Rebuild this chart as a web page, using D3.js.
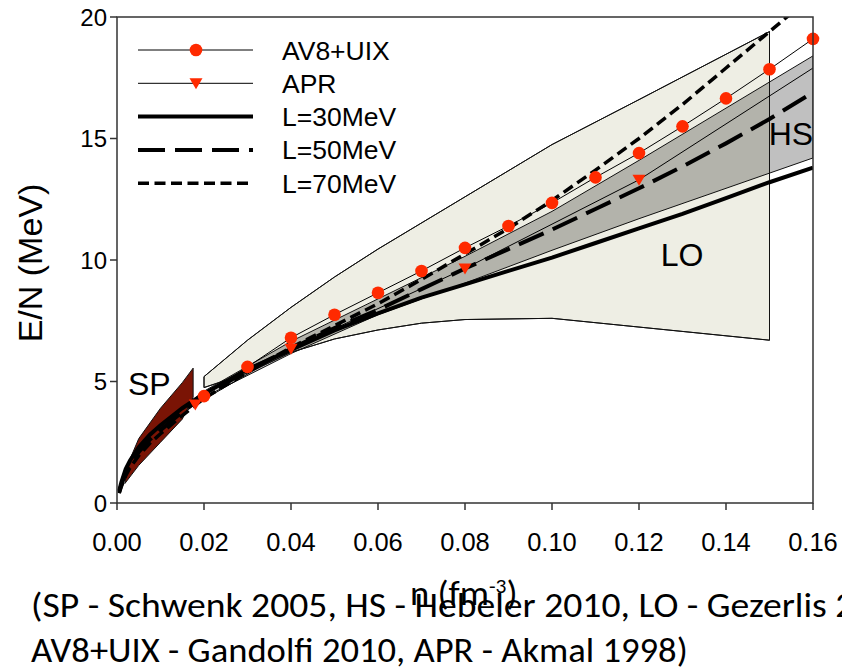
<!DOCTYPE html>
<html>
<head>
<meta charset="utf-8">
<script src="https://cdn.jsdelivr.net/npm/d3@7"></script>
<style>
  body { margin: 0; background: #fff; }
  svg { display: block; }
</style>
</head>
<body>
<div id="chart"></div>
<script>
// Data: [n (fm^-3), E/N (MeV)]
const xTicks = [0, 0.02, 0.04, 0.06, 0.08, 0.10, 0.12, 0.14, 0.16];
const yTicks = [0, 5, 10, 15, 20];

const l30 = [[0.0005, 0.5], [0.001, 0.85], [0.002, 1.4], [0.003, 1.75], [0.005, 2.3],
    [0.0075, 2.8], [0.01, 3.2], [0.015, 3.9], [0.02, 4.5], [0.03, 5.5], [0.04, 6.3], [0.05, 7.1],
    [0.06, 7.8], [0.07, 8.45], [0.08, 9.0], [0.09, 9.55], [0.10, 10.1], [0.11, 10.7], [0.12, 11.3],
    [0.13, 11.9], [0.14, 12.55], [0.15, 13.2], [0.16, 13.8]];
const l50 = [[0.0005, 0.45], [0.001, 0.75], [0.002, 1.25], [0.003, 1.6], [0.005, 2.1],
    [0.0075, 2.6], [0.01, 3.0], [0.015, 3.75], [0.02, 4.4], [0.03, 5.45], [0.04, 6.35], [0.05, 7.2],
    [0.06, 7.95], [0.07, 8.8], [0.08, 9.65], [0.09, 10.45], [0.10, 11.25], [0.11, 12.1], [0.12, 12.95],
    [0.13, 13.85], [0.14, 14.8], [0.15, 15.8], [0.16, 16.9]];
const l70 = [[0.0005, 0.4], [0.001, 0.68], [0.002, 1.12], [0.003, 1.45], [0.005, 1.95],
    [0.0075, 2.45], [0.01, 2.85], [0.015, 3.6], [0.02, 4.3], [0.03, 5.4], [0.04, 6.4], [0.05, 7.3],
    [0.06, 8.2], [0.07, 9.2], [0.08, 10.25], [0.09, 11.3], [0.10, 12.45], [0.11, 13.7], [0.12, 15.0],
    [0.13, 16.4], [0.14, 17.9], [0.15, 19.4], [0.16, 20.9]];

const av8uix = [[0.02, 4.4], [0.03, 5.6], [0.04, 6.8], [0.05, 7.75], [0.06, 8.65], [0.07, 9.55],
    [0.08, 10.5], [0.09, 11.4], [0.10, 12.35], [0.11, 13.4], [0.12, 14.4], [0.13, 15.5],
    [0.14, 16.65], [0.15, 17.85], [0.16, 19.1]];
const apr = [[0.018, 4.05], [0.04, 6.35], [0.08, 9.65], [0.12, 13.3], [0.16, 17.9]];
const aprMarked = [0.018, 0.04, 0.08, 0.12];

// bands: upper edge left->right, lower edge left->right
const spUpper = [[0.0018, 0.8], [0.0025, 1.6], [0.005, 2.65], [0.01, 3.9], [0.015, 4.95], [0.0175, 5.55]];
const spLower = [[0.0018, 0.8], [0.005, 1.55], [0.01, 2.5], [0.015, 3.45], [0.0175, 4.35]];

const hsUpper = [[0.005, 2.3], [0.01, 3.25], [0.02, 4.6], [0.04, 6.65], [0.06, 8.4], [0.08, 10.15],
    [0.10, 12.0], [0.12, 14.1], [0.14, 16.25], [0.16, 18.4]];
const hsLower = [[0.005, 2.0], [0.01, 2.95], [0.02, 4.35], [0.04, 6.15], [0.06, 7.75], [0.08, 9.05],
    [0.10, 10.4], [0.12, 11.7], [0.14, 12.95], [0.16, 14.2]];

const loUpper = [[0.02, 5.2], [0.03, 6.7], [0.04, 8.05], [0.05, 9.3], [0.06, 10.45], [0.08, 12.6],
    [0.10, 14.75], [0.12, 16.6], [0.15, 19.4]];
const loLower = [[0.02, 4.75], [0.03, 5.35], [0.04, 6.2], [0.05, 6.75], [0.06, 7.12], [0.07, 7.4],
    [0.08, 7.55], [0.10, 7.6], [0.15, 6.7]];

const legendItems = [
    { label: "AV8+UIX", width: 1, dash: null, marker: "circle" },
    { label: "APR", width: 1, dash: null, marker: "triangle" },
    { label: "L=30MeV", width: 4, dash: null },
    { label: "L=50MeV", width: 4, dash: "27,10" },
    { label: "L=70MeV", width: 3.5, dash: "11,5.5" }
];

const width = 842, height = 671;
const plot = { left: 117, right: 813, top: 17, bottom: 503 };
const red = "#ff2a00";
const arial = "Liberation Sans, Arial, sans-serif";

const svg = d3.select("#chart").append("svg")
    .attr("width", width)
    .attr("height", height);

const x = d3.scaleLinear().domain([0, 0.16]).range([plot.left, plot.right]);
const y = d3.scaleLinear().domain([0, 20]).range([plot.bottom, plot.top]);

svg.append("defs").append("clipPath").attr("id", "plot-clip")
    .append("rect")
    .attr("x", plot.left).attr("y", plot.top)
    .attr("width", plot.right - plot.left).attr("height", plot.bottom - plot.top);

const line = d3.line().x(d => x(d[0])).y(d => y(d[1]));
const band = (upper, lower) => line(upper.concat(lower.slice().reverse())) + "Z";

const g = svg.append("g").attr("clip-path", "url(#plot-clip)");

// LO band
g.append("path")
    .attr("d", band(loUpper, loLower))
    .attr("fill", "#eeeee4")
    .attr("stroke", "#111")
    .attr("stroke-width", 1);

// HS band (darker where it overlaps LO)
g.append("path")
    .attr("d", band(hsUpper, hsLower))
    .attr("fill", "#c0c0c0")
    .style("mix-blend-mode", "multiply")
    .attr("stroke", "#111")
    .attr("stroke-width", 1);

// LO outline again on top of HS
g.append("path")
    .attr("d", band(loUpper, loLower))
    .attr("fill", "none")
    .attr("stroke", "#111")
    .attr("stroke-width", 1);

// SP band
g.append("path")
    .attr("d", band(spUpper, spLower))
    .attr("fill", "#7a1405")
    .attr("stroke", "#111")
    .attr("stroke-width", 1);

// model curves
g.append("path").datum(l30).attr("d", line)
    .attr("fill", "none").attr("stroke", "#000").attr("stroke-width", 4);
g.append("path").datum(l50).attr("d", line)
    .attr("fill", "none").attr("stroke", "#000").attr("stroke-width", 4)
    .attr("stroke-dasharray", "27,10");
g.append("path").datum(l70).attr("d", line)
    .attr("fill", "none").attr("stroke", "#000").attr("stroke-width", 3.5)
    .attr("stroke-dasharray", "11,5.5");

g.append("path").datum(av8uix).attr("d", line)
    .attr("fill", "none").attr("stroke", "#000").attr("stroke-width", 1);
g.append("path").datum(apr).attr("d", line)
    .attr("fill", "none").attr("stroke", "#000").attr("stroke-width", 1);

const triangle = "M-6.5,-5L6.5,-5L0,6Z";

svg.append("g").selectAll("circle")
    .data(av8uix)
    .join("circle")
    .attr("cx", d => x(d[0]))
    .attr("cy", d => y(d[1]))
    .attr("r", 6.3)
    .attr("fill", red);

svg.append("g").selectAll("path")
    .data(apr.filter(d => aprMarked.includes(d[0])))
    .join("path")
    .attr("transform", d => `translate(${x(d[0])},${y(d[1])})`)
    .attr("d", triangle)
    .attr("fill", red);

// band labels
const bandLabels = [["SP", 0.0025, 4.45], ["HS", 0.1498, 14.75], ["LO", 0.125, 9.75]];
svg.append("g").selectAll("text")
    .data(bandLabels)
    .join("text")
    .attr("x", d => x(d[1]))
    .attr("y", d => y(d[2]))
    .attr("font-family", arial)
    .attr("font-size", 32)
    .text(d => d[0]);

// frame
svg.append("path")
    .attr("d", `M${plot.left},${plot.bottom}V${plot.top}H${plot.right}V${plot.bottom}Z`)
    .attr("fill", "none")
    .attr("stroke", "#333")
    .attr("stroke-width", 1.5);

// x axis
const xAxis = svg.append("g");
xAxis.selectAll("line")
    .data(xTicks)
    .join("line")
    .attr("x1", d => x(d)).attr("x2", d => x(d))
    .attr("y1", plot.bottom).attr("y2", plot.bottom + 7)
    .attr("stroke", "#333").attr("stroke-width", 1.5);
xAxis.selectAll("text")
    .data(xTicks)
    .join("text")
    .attr("x", d => x(d))
    .attr("y", 551)
    .attr("text-anchor", "middle")
    .attr("font-family", arial)
    .attr("font-size", 25.5)
    .text(d => d3.format(".2f")(d));

// y axis
const yAxis = svg.append("g");
yAxis.selectAll("line")
    .data(yTicks)
    .join("line")
    .attr("x1", plot.left - 7).attr("x2", plot.left)
    .attr("y1", d => y(d)).attr("y2", d => y(d))
    .attr("stroke", "#333").attr("stroke-width", 1.5);
yAxis.selectAll("text")
    .data(yTicks)
    .join("text")
    .attr("x", 107)
    .attr("y", d => y(d))
    .attr("dy", "0.36em")
    .attr("text-anchor", "end")
    .attr("font-family", arial)
    .attr("font-size", 24)
    .text(d => d);

// y title
svg.append("text")
    .attr("transform", "translate(42,263) rotate(-90)")
    .attr("text-anchor", "middle")
    .attr("font-family", arial)
    .attr("font-size", 34)
    .text("E/N (MeV)");

// legend
const legend = svg.append("g").attr("transform", "translate(138,50)");
legendItems.forEach((item, i) => {
    const row = legend.append("g").attr("transform", `translate(0,${i * 33.3})`);
    row.append("line")
        .attr("x1", 0).attr("x2", 115)
        .attr("stroke", "#000")
        .attr("stroke-width", item.width)
        .attr("stroke-dasharray", item.dash);
    if (item.marker === "circle") {
        row.append("circle").attr("cx", 58).attr("r", 6.3).attr("fill", red);
    } else if (item.marker === "triangle") {
        row.append("path").attr("transform", "translate(58,0)").attr("d", triangle).attr("fill", red);
    }
    row.append("text")
        .attr("x", 144)
        .attr("y", 9.5)
        .attr("font-family", arial)
        .attr("font-size", 26.5)
        .text(item.label);
});

// x title and caption (Calibri-like)
const captionFont = "Carlito, Calibri, Lato, sans-serif";
const line2 = svg.append("text")
    .attr("font-family", captionFont)
    .attr("font-size", 34)
    .text("AV8+UIX - Gandolfi 2010, APR - Akmal 1998)");
const sx = 657 / line2.node().getComputedTextLength();
line2.attr("transform", `translate(31,662) scale(${sx},1)`);

// first line: fit so that the cut-off "2" lands where the reference has it
const probe = svg.append("text")
    .attr("font-family", captionFont)
    .attr("font-size", 34)
    .text("(SP - Schwenk 2005, HS - Hebeler 2010, LO - Gezerlis ");
const sx1 = 796 / probe.node().getComputedTextLength();
probe.remove();

svg.append("text")
    .attr("transform", `translate(31,617) scale(${sx1},1)`)
    .attr("font-family", captionFont)
    .attr("font-size", 34)
    .text("(SP - Schwenk 2005, HS - Hebeler 2010, LO - Gezerlis 2010,");

const xTitle = svg.append("text")
    .attr("transform", `translate(410,605) scale(${sx},1)`)
    .attr("font-family", captionFont)
    .attr("font-size", 34);
xTitle.append("tspan").text("n (fm");
xTitle.append("tspan").attr("font-size", 20).attr("dy", -12).text("-3");
xTitle.append("tspan").attr("dy", 12).text(")");
</script>
</body>
</html>
